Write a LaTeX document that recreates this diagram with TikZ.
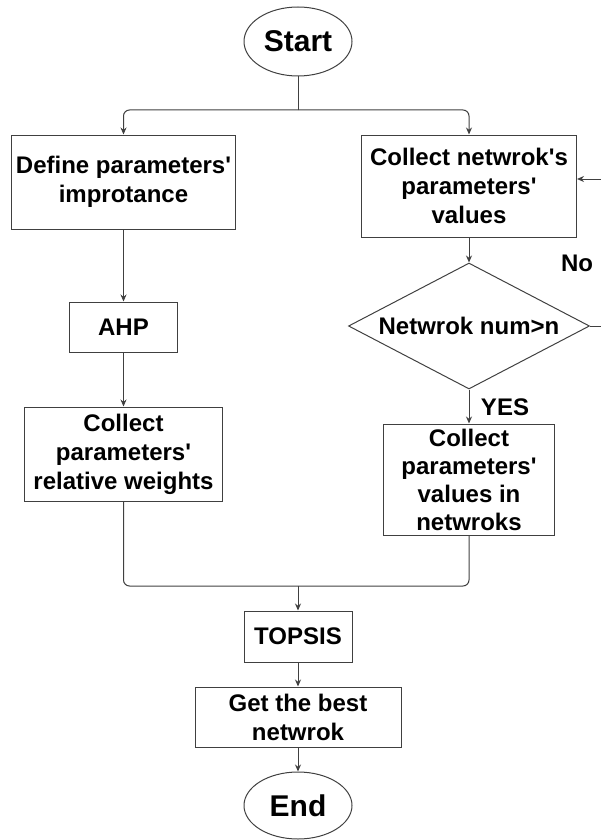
\documentclass[tikz,border=0pt]{standalone}
\usepackage{fontspec}
\setmainfont{Liberation Sans}
\usetikzlibrary{shapes.geometric,arrows.meta}
\newcommand{\apos}{\textquotesingle}
\begin{document}
\begin{tikzpicture}[x=1pt,y=-1pt,
  every node/.style={font=\bfseries\fontsize{24}{29}\selectfont, align=center, inner sep=0pt},
  box/.style={draw=black!75, line width=1pt, rectangle},
  term/.style={draw=black!75, line width=1pt, ellipse, minimum width=108pt,
               font=\bfseries\fontsize{30}{36}\selectfont},
  decide/.style={draw=black!75, line width=1pt, diamond, shape aspect=1.9},
  link/.style={draw=black!75, line width=1pt, rounded corners=6pt},
  arr/.style={link, -{Stealth[length=7pt,width=6pt]}}
]
\useasboundingbox (0,0) rectangle (600,840);

% terminals
\node[term, minimum height=69pt] (start) at (298,41.5) {Start};
\node[term, minimum height=67pt] (stop) at (298,805.5) {End};

% left branch
\node[box, minimum width=224pt, minimum height=94pt] (define) at (123.5,182) {Define parameters\apos\\improtance};
\node[box, minimum width=108pt, minimum height=50pt] (ahp) at (123.5,327) {AHP};
\node[box, minimum width=198pt, minimum height=94pt] (weights) at (123.5,454) {Collect\\parameters\apos\\relative weights};

% right branch
\node[box, minimum width=215pt, minimum height=102pt] (collect) at (469,186) {Collect netwrok\apos s\\parameters\apos\\values};
\node[decide, minimum width=241pt, minimum height=126pt] (dec) at (469,326) {Netwrok num>n};
\node[box, minimum width=171pt, minimum height=111pt, font=\bfseries\fontsize{24}{28}\selectfont] (valuesin) at (469,479.5) {Collect\\parameters\apos\\values in\\netwroks};

% final stages
\node[box, minimum width=108pt, minimum height=51pt] (topsis) at (298,636.5) {TOPSIS};
\node[box, minimum width=206pt, minimum height=60pt] (best) at (298,717) {Get the best\\netwrok};

% branch labels
\node (no) at (577,263) {No};
\node (yes) at (505,407) {YES};

% split after start
\coordinate (split) at (298,110);
\draw[link] (start.south) -- (split);
\draw[arr] (split) -| (define.north);
\draw[arr] (split) -| (collect.north);

% left chain
\draw[arr] (define) -- (ahp);
\draw[arr] (ahp) -- (weights);

% right chain with loop back
\draw[arr] (collect) -- (dec);
\draw[arr] (dec) -- (valuesin);
\coordinate (loop) at (603,326);
\draw[arr, rounded corners=0pt] (dec.east) -- (loop) |- ([yshift=7pt]collect.east);

% merge and tail
\coordinate (merge) at (298,586);
\draw[link] (weights.south) |- (merge) -| (valuesin.south);
\draw[arr] (merge) -- (topsis);
\draw[arr] (topsis) -- (best);
\draw[arr] (best) -- (stop);
\end{tikzpicture}
\end{document}
